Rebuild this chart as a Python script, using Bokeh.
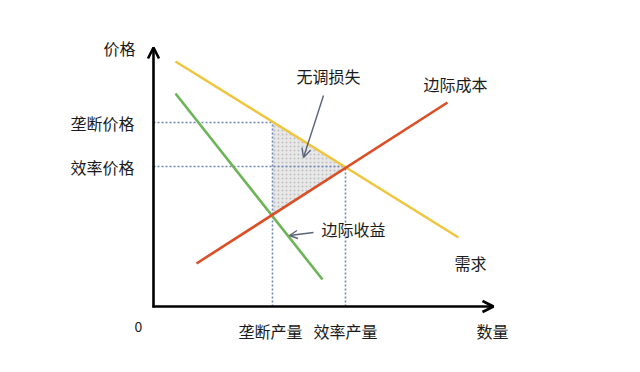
from bokeh.plotting import figure
from bokeh.models import Range1d, Arrow, OpenHead, ColumnDataSource
from bokeh.core.properties import value
from bokeh.embed import file_html
from bokeh.resources import INLINE

# ---- data (quantity, price in arbitrary units) ----
demand_q = [2.2, 30.5]
demand_p = [24.5, 6.9]
mr_q = [2.2, 16.9]
mr_p = [21.3, 2.7]
mc_q = [4.3, 29.4]
mc_p = [4.3, 20.4]

q_monopoly = 11.9
q_efficient = 19.2
p_monopoly = 18.4
p_efficient = 14.0
mc_at_qm = 9.1

axis_x_end = 34.0
axis_y_end = 25.9

FONT = value("Noto Sans CJK SC")

p = figure(width=640, height=372, output_backend="svg", toolbar_location=None,
           x_range=Range1d(-15.3, 48.7), y_range=Range1d(-6.6, 30.6),
           min_border=0, outline_line_color=None)
p.axis.visible = False
p.grid.visible = False
p.background_fill_color = "white"

# deadweight loss triangle
p.patch([q_monopoly, q_efficient, q_monopoly], [p_monopoly, p_efficient, mc_at_qm],
        fill_color="#e8e8e8", line_color=None, hatch_pattern="dot",
        hatch_color="#c0c0c0", hatch_scale=4, hatch_weight=0.6)

# dotted guides
dot = dict(line_color="#6f87b5", line_dash="2 2", line_width=1.6)
p.line([0, q_monopoly], [p_monopoly, p_monopoly], **dot)
p.line([0, q_efficient], [p_efficient, p_efficient], **dot)
p.line([q_monopoly, q_monopoly], [0, p_monopoly], **dot)
p.line([q_efficient, q_efficient], [0, p_efficient], **dot)

# curves
p.line(demand_q, demand_p, line_color="#f0c53f", line_width=2.6)
p.line(mr_q, mr_p, line_color="#6cb457", line_width=2.6)
p.line(mc_q, mc_p, line_color="#db4f27", line_width=2.6)

# axes
p.add_layout(Arrow(end=OpenHead(size=11, line_width=2.6, line_color="black"),
                   x_start=0, y_start=-0.1, x_end=0, y_end=axis_y_end,
                   line_width=2.6, line_color="black"))
p.add_layout(Arrow(end=OpenHead(size=11, line_width=2.6, line_color="black"),
                   x_start=-0.1, y_start=0, x_end=axis_x_end, y_end=0,
                   line_width=2.6, line_color="black"))

# pointer arrows
p.add_layout(Arrow(end=OpenHead(size=9, line_width=1.4, line_color="#5a6478"),
                   x_start=17.0, y_start=21.1, x_end=15.0, y_end=14.9,
                   line_width=1.4, line_color="#5a6478"))
p.add_layout(Arrow(end=OpenHead(size=8, line_width=1.4, line_color="#5a6478"),
                   x_start=16.0, y_start=7.4, x_end=13.6, y_end=7.1,
                   line_width=1.4, line_color="#5a6478"))

# labels
txt = dict(text_font=FONT, text_font_size="16px", text_color="#1a1a1a",
           text_baseline="middle")
labels_c = ColumnDataSource(dict(
    x=[-3.4, 17.5, 30.2, 31.7, q_monopoly - 0.2, q_efficient, 33.9],
    y=[25.9, 23.1, 22.3, 4.4, -2.4, -2.4, -2.4],
    t=["价格", "无调损失", "边际成本", "需求", "垄断产量", "效率产量", "数量"]))
p.text("x", "y", "t", source=labels_c, text_align="center", **txt)

labels_r = ColumnDataSource(dict(
    x=[-1.9, -1.9], y=[p_monopoly, p_efficient], t=["垄断价格", "效率价格"]))
p.text("x", "y", "t", source=labels_r, text_align="right", **txt)

p.text([20.0], [7.8], ["边际收益"], text_align="center", **txt)
p.text([-1.5], [-2.0], ["0"], text_align="center", text_font=FONT,
       text_font_size="14px", text_color="#1a1a1a", text_baseline="middle")

open("out.html", "w").write(file_html(p, INLINE))
